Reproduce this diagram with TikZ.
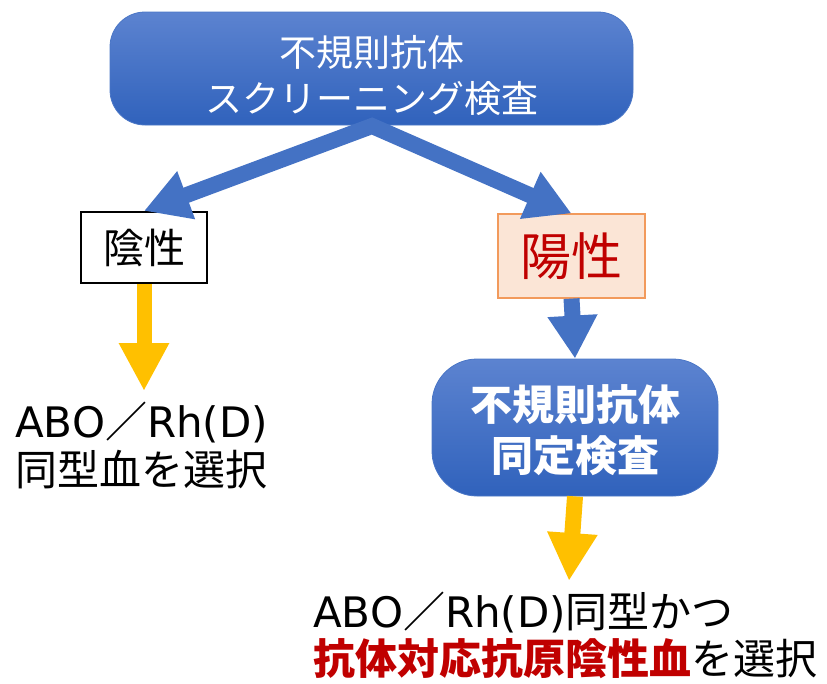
\documentclass[tikz,border=0pt]{standalone}
\usepackage{fontspec}
\setmainfont{Noto Sans CJK JP}
\newfontfamily\latinfont{DejaVu Sans}
\usetikzlibrary{arrows.meta}
\definecolor{arrowblue}{HTML}{4472C4}
\definecolor{boxtopc}{HTML}{5C83D0}
\definecolor{boxbotc}{HTML}{3062BC}
\definecolor{boxedge}{HTML}{4A76C6}
\definecolor{gold}{HTML}{FFC000}
\definecolor{pinkfill}{HTML}{FBE5D6}
\definecolor{pinkedge}{HTML}{F29A5C}
\definecolor{darkred}{HTML}{C00000}
\newcommand{\aborh}{{\latinfont ABO}／{\latinfont Rh(D)}}
\tikzset{
  bluebox/.style={draw=boxedge, line width=0.8pt, top color=boxtopc, bottom color=boxbotc, inner sep=0pt},
  whitetext/.style={text=white, align=center, inner sep=0pt},
  negbox/.style={draw=black, line width=2.2pt, fill=white, inner sep=0pt, font=\fontsize{41}{41}\selectfont},
  posbox/.style={draw=pinkedge, line width=1.2pt, fill=pinkfill, inner sep=0pt, text=darkred, font=\fontsize{51}{51}\selectfont},
  resulttext/.style={anchor=base west, inner sep=0pt, font=\fontsize{42}{42}\selectfont},
  bluearrow/.style={draw=arrowblue, line width=16pt, line join=miter},
  goldarrow/.style={draw=gold, line width=15pt, -{Triangle[length=48pt,width=47pt]}},
}
\begin{document}
\begin{tikzpicture}[x=1pt,y=-1pt]
\useasboundingbox (0,0) rectangle (827,683);

% top box
\node[bluebox, minimum width=523pt, minimum height=113pt, rounded corners=35pt] (screen) at (371.5,68.5) {};
\node[whitetext, font=\fontsize{37}{46}\selectfont] (screentxt) at (371.5,76) {不規則抗体\\スクリーニング検査};

% result boxes
\node[negbox, minimum width=126pt, minimum height=71pt] (neg) at (144,247.5) {陰性};
\node[posbox, minimum width=147pt, minimum height=84pt] (pos) at (571.5,256) {陽性};

% identification box
\node[bluebox, minimum width=286pt, minimum height=137pt, rounded corners=45pt] (ident) at (575,427.5) {};
\node[whitetext, font=\fontsize{42}{51}\selectfont\bfseries] (identtxt) at (575,430.5) {不規則抗体\\同定検査};

% split arrow
\coordinate (apex) at (372,126);
\draw[bluearrow, {Triangle[length=45pt,width=48pt]}-{Triangle[length=45pt,width=48pt]}] (neg.north) -- (apex) -- (pos.north);
\draw[draw=arrowblue, line width=16pt, -{Triangle[length=43pt,width=47pt]}] (pos.south) -- (ident.north);

% result texts
\node[resulttext] (negres1) at (15,437) {\aborh};
\node[resulttext] (negres2) at (15,485) {同型血を選択};
\node[resulttext] (posres1) at (313,627) {\aborh 同型かつ};
\node[resulttext] (posres2) at (313,674) {{\color{darkred}\bfseries 抗体対応抗原陰性血}を選択};

% gold arrows
\coordinate (negend) at (144,391);
\coordinate (posend) at (569,581);
\draw[goldarrow] (neg.south) -- (negend);
\draw[goldarrow, line width=16pt] (ident.south) -- (posend);
\end{tikzpicture}
\end{document}
